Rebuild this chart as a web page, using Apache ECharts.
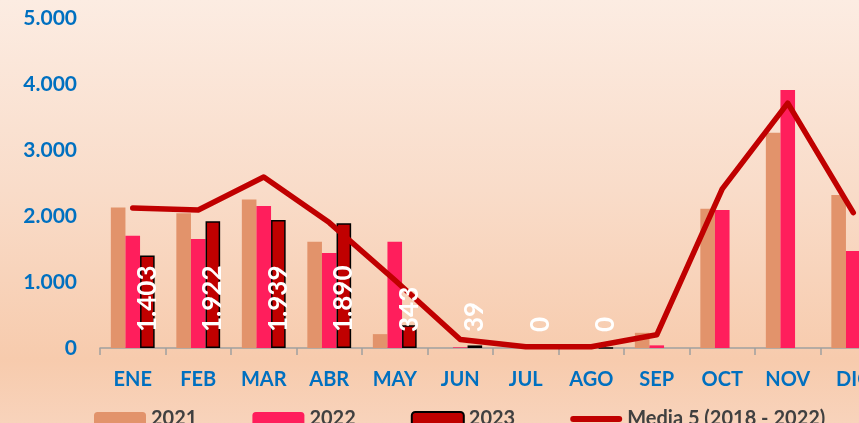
<!DOCTYPE html>
<html>
<head>
<meta charset="utf-8">
<script src="https://cdn.jsdelivr.net/npm/echarts@6/dist/echarts.min.js"></script>
<style>
  html, body { margin: 0; padding: 0; }
  #chart {
    position: relative;
    width: 859px;
    height: 423px;
    background: linear-gradient(to bottom, #fcece2 0%, #f9dcc9 45%, #f7cbad 85%, #f8d3bb 100%);
  }
  #frame {
    position: absolute;
    left: 4px; top: 0; bottom: 0;
    width: 1.5px;
    background: #6b5b52;
  }
</style>
</head>
<body>
<div id="chart"><div id="frame"></div></div>
<script>
// Monthly values and the 5-year reference mean
const months = ['ENE', 'FEB', 'MAR', 'ABR', 'MAY', 'JUN', 'JUL', 'AGO', 'SEP', 'OCT', 'NOV', 'DIC'];
const values2021 = [2130, 2040, 2250, 1610, 210, 0, 0, 0, 230, 2110, 3260, 2320];
const values2022 = [1700, 1650, 2150, 1440, 1610, 10, 0, 0, 40, 2090, 3910, 1470];
const values2023 = [1403, 1922, 1939, 1890, 343, 39, 0, 0, null, null, null, null];
const media5 = [2120, 2090, 2590, 1900, 1030, 130, 20, 20, 200, 2410, 3710, 2050];
const seriesNames = ['2021', '2022', '2023', 'Media 5 (2018 - 2022)'];
const yTicks = { min: 0, max: 5000, interval: 1000 };

const fontFamily = 'Lato, "Open Sans", sans-serif';
const BAR_W = 14.6;
const dotThousands = v => String(v).replace(/\B(?=(\d{3})+(?!\d))/g, '.');
// thick rounded stroke used as the legend key of the mean line
const lineKey = 'path://M3,0 L49,0 A3,3 0 0 1 49,6 L3,6 A3,3 0 0 1 3,0 Z';

// value labels of the 2023 bars, kept in their own layer so they sit above the mean line
const labels2023 = values2023
  .map((v, i) => (v == null ? null : [i, v]))
  .filter(d => d !== null);

const chart = echarts.init(document.getElementById('chart'), null, { renderer: 'canvas' });

chart.setOption({
  backgroundColor: 'transparent',
  animation: false,
  textStyle: { fontFamily: fontFamily },
  grid: { left: 100, top: 18, width: 786, height: 330, containLabel: false, outerBoundsMode: 'none' },
  legend: {
    left: 89,
    top: 404,
    itemWidth: 52,
    itemHeight: 14,
    itemGap: 55,
    textStyle: { fontSize: 20, fontWeight: 'bold', color: '#404040', fontFamily: fontFamily },
    data: [
      { name: seriesNames[0] },
      { name: seriesNames[1] },
      { name: seriesNames[2] },
      { name: seriesNames[3], icon: lineKey, itemStyle: { color: '#c00000' } }
    ]
  },
  xAxis: {
    type: 'category',
    data: months,
    axisLine: { show: true, lineStyle: { color: '#a0a0a0', width: 1.5 } },
    axisTick: { show: true, alignWithLabel: false, length: 7, lineStyle: { color: '#a0a0a0', width: 1.5 } },
    axisLabel: { color: '#0070c0', fontSize: 20, fontWeight: 'bold', margin: 22, fontFamily: fontFamily },
    splitLine: { show: false }
  },
  yAxis: {
    type: 'value',
    min: yTicks.min,
    max: yTicks.max,
    interval: yTicks.interval,
    axisLine: { show: false },
    axisTick: { show: false },
    splitLine: { show: false },
    axisLabel: {
      color: '#0070c0', fontSize: 21, fontWeight: 'bold', margin: 23, fontFamily: fontFamily,
      formatter: dotThousands
    }
  },
  series: [
    {
      name: seriesNames[0], type: 'bar', data: values2021,
      barWidth: BAR_W, barGap: '0%',
      itemStyle: { color: '#e2936b' }
    },
    {
      name: seriesNames[1], type: 'bar', data: values2022,
      barWidth: BAR_W, barGap: '0%',
      itemStyle: { color: '#ff1e5c' }
    },
    {
      name: seriesNames[2], type: 'bar', data: values2023,
      barWidth: BAR_W, barGap: '0%',
      itemStyle: { color: '#c00000', borderColor: '#000000', borderWidth: 1.5 }
    },
    {
      name: seriesNames[3], type: 'line', data: media5,
      symbol: 'none',
      z: 5,
      lineStyle: { color: '#c00000', width: 5.5, cap: 'round', join: 'round' },
      itemStyle: { color: '#c00000' }
    },
    {
      name: 'labels2023', type: 'custom', data: labels2023,
      z: 10, silent: true, clip: false,
      encode: { x: 0, y: 1 },
      renderItem: (params, api) => {
        const base = api.coord([api.value(0), 0]);
        return {
          type: 'text',
          x: base[0] + BAR_W,
          y: base[1] - 16,
          rotation: Math.PI / 2,
          style: {
            text: dotThousands(api.value(1)),
            fill: '#ffffff',
            font: 'bold 26px ' + fontFamily,
            align: 'left',
            verticalAlign: 'middle'
          }
        };
      }
    }
  ]
});
</script>
</body>
</html>
